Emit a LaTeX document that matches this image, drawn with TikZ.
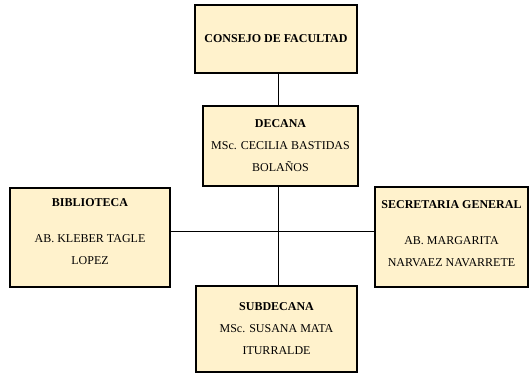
\documentclass[tikz,border=0pt]{standalone}
\usepackage{fontspec}
\setmainfont{Liberation Serif}
\definecolor{cargo}{RGB}{255,242,204}
\tikzset{
  cargo/.style={draw=black,line width=1.5pt,fill=cargo,align=center,inner sep=2pt,font=\fontsize{12}{22}\selectfont},
  enlace/.style={line width=1pt}
}
\begin{document}
\begin{tikzpicture}[x=1pt,y=-1pt]
		\useasboundingbox (0,0) rectangle (530,374);
		% cajas
		\node[cargo,minimum width=162pt,minimum height=68pt] (consejo) at (276,39) {\textbf{CONSEJO DE FACULTAD}};
		\node[cargo,minimum width=155pt,minimum height=80pt] (decana) at (280.5,146) {\textbf{DECANA}\\MSc. CECILIA BASTIDAS\\BOLAÑOS};
		\node[cargo,minimum width=160pt,minimum height=99pt] (biblio) at (90,237.5) {\textbf{BIBLIOTECA}\\[14pt]AB. KLEBER TAGLE\\LOPEZ\\[-10pt]};
		\node[cargo,minimum width=153pt,minimum height=100pt] (secre) at (451.5,237) {\textbf{SECRETARIA GENERAL}\\[14pt]AB. MARGARITA\\NARVAEZ NAVARRETE\\[-16pt]};
		\node[cargo,minimum width=161pt,minimum height=86pt] (subdec) at (276.5,329) {\textbf{SUBDECANA}\\MSc. SUSANA MATA\\ITURRALDE};
		% enlaces
		\coordinate (cruce) at (278,232);
		\draw[enlace] (consejo.south -| cruce) -- (decana.north -| cruce);
		\draw[enlace] (decana.south -| cruce) -- (subdec.north -| cruce);
		\draw[enlace] (biblio.east |- cruce) -- (secre.west |- cruce);
\end{tikzpicture}
\end{document}
